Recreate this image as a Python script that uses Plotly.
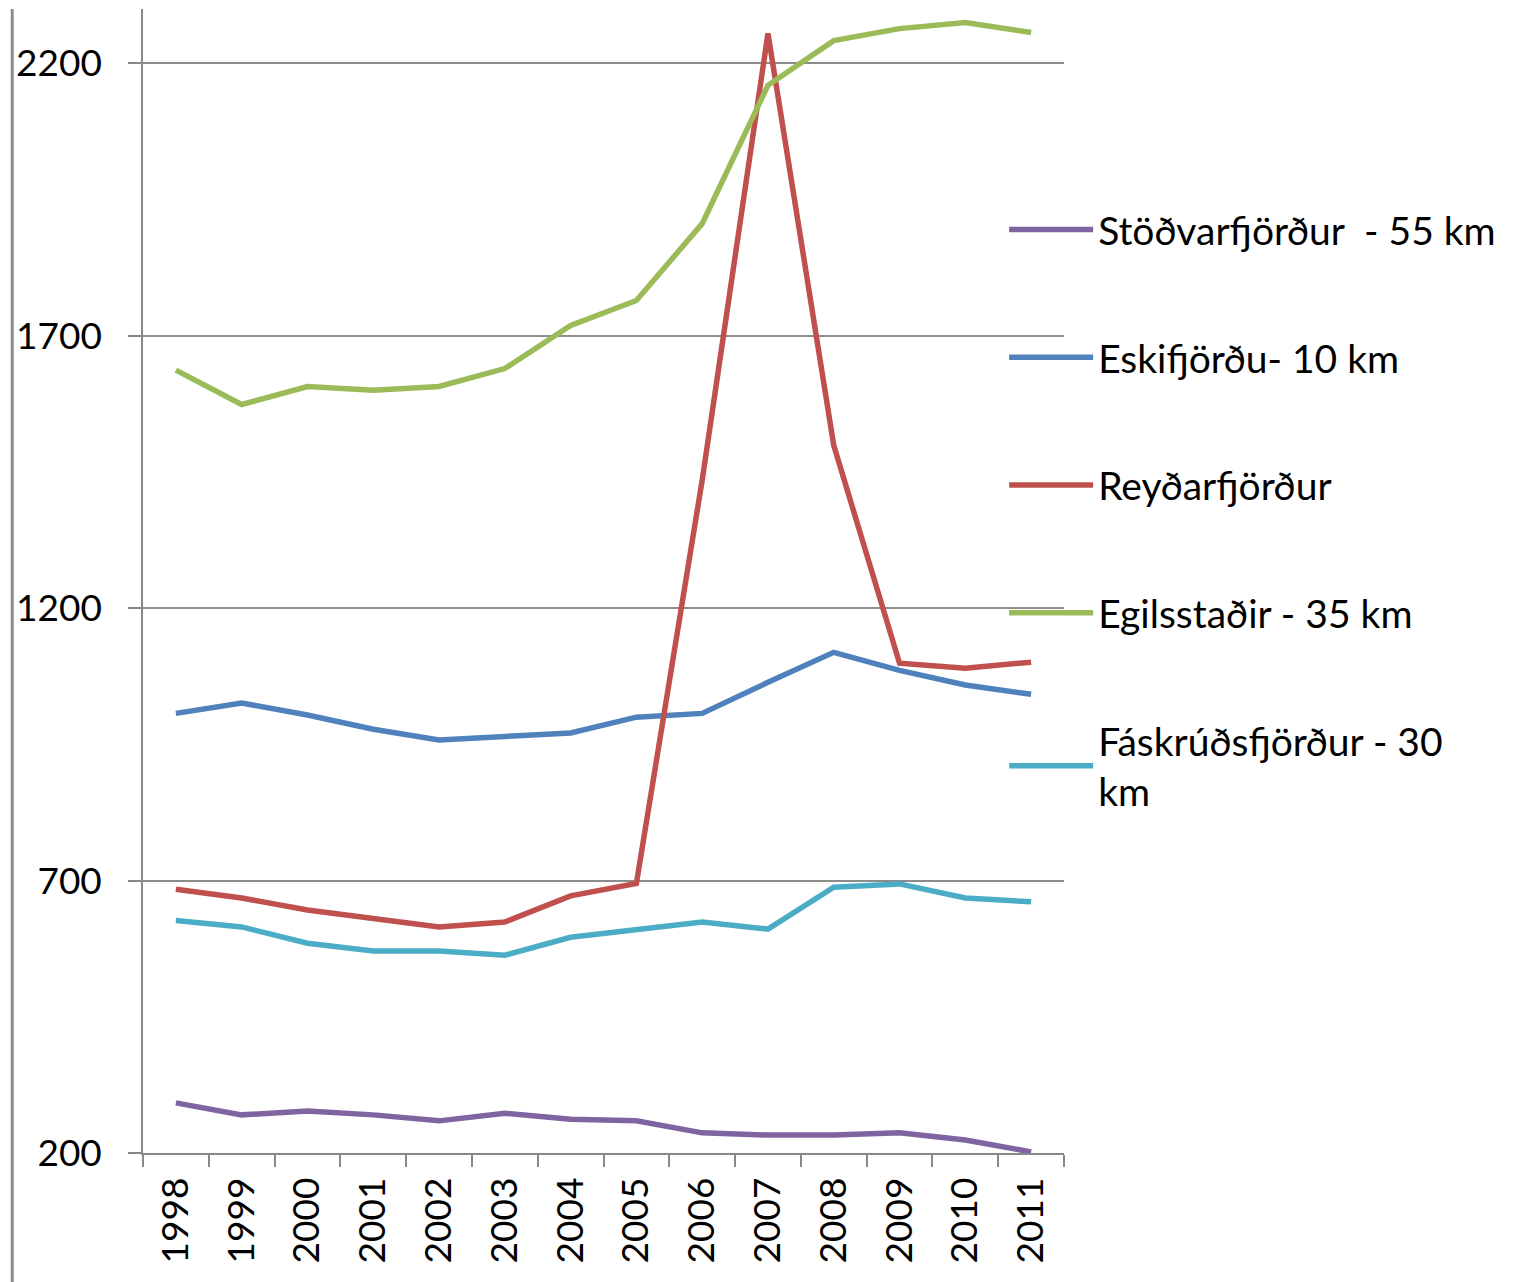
import plotly.graph_objects as go

years = ["1998", "1999", "2000", "2001", "2002", "2003", "2004",
         "2005", "2006", "2007", "2008", "2009", "2010", "2011"]

stodvarfjordur = [292, 270, 277, 270, 259, 273, 262, 259, 237, 233, 233, 237, 224, 202]
eskifjordur = [1007, 1026, 1004, 978, 958, 965, 971, 1000, 1007, 1064, 1119, 1086, 1059, 1042]
reydarfjordur = [684, 668, 646, 631, 615, 624, 672, 695, 1435, 2255, 1499, 1099, 1090, 1101]
egilsstadir = [1637, 1574, 1607, 1600, 1607, 1640, 1719, 1765, 1906, 2160, 2242, 2264, 2275, 2257]
faskrudsfjordur = [627, 615, 585, 571, 571, 563, 596, 611, 624, 611, 688, 694, 668, 661]

series_names = ["Stöðvarfjörður  - 55 km", "Eskifjörðu- 10 km", "Reyðarfjörður",
                "Egilsstaðir - 35 km", "Fáskrúðsfjörður - 30<br>km"]
series_values = [stodvarfjordur, eskifjordur, reydarfjordur, egilsstadir, faskrudsfjordur]
colors = ["#8064A2", "#4F81BD", "#C0504D", "#9BBB59", "#4BACC6"]

y_ticks = [200, 700, 1200, 1700, 2200]

FONT = "Lato, Calibri, sans-serif"

fig = go.Figure()
for i, (name, vals, col) in enumerate(zip(series_names, series_values, colors)):
    fig.add_trace(go.Scatter(
        x=years, y=vals, name=name, mode="lines",
        line=dict(color=col, width=5.5),
        legendgroup=f"g{i}",
    ))

fig.update_layout(
    width=1524, height=1274,
    margin=dict(l=135, r=468, t=1, b=129),
    plot_bgcolor="white", paper_bgcolor="white",
    font=dict(family=FONT, size=37, color="black"),
    showlegend=True,
    legend=dict(
        x=0.935, xanchor="left", y=0.835, yanchor="top",
        font=dict(family=FONT, size=39, color="black"),
        tracegroupgap=74, itemwidth=84,
        bgcolor="rgba(0,0,0,0)",
    ),
    xaxis=dict(
        type="category", tickson="boundaries", automargin=False,
        showgrid=False, showline=True, linecolor="#888888", linewidth=1.5,
        ticks="outside", ticklen=12, tickcolor="#888888", tickwidth=1.5,
        tickangle=-90, tickfont=dict(family=FONT, size=37, color="black"),
        ticklabelstandoff=8,
        range=[-0.5, 13.5], zeroline=False,
    ),
    yaxis=dict(
        range=[200, 2300], tickvals=y_ticks, automargin=False,
        showgrid=True, gridcolor="#8c8c8c", gridwidth=1.5,
        showline=True, linecolor="#888888", linewidth=1.5,
        ticks="outside", ticklen=13, tickcolor="#888888", tickwidth=1.5,
        tickfont=dict(family=FONT, size=37, color="black"),
        ticklabelstandoff=19, zeroline=False,
    ),
)

# left border line of the chart frame
fig.add_shape(type="line", xref="paper", yref="paper",
              x0=-0.142, x1=-0.142, y0=-0.2, y1=1.0,
              line=dict(color="#8c8c8c", width=3))

fig.write_html("out.html")
